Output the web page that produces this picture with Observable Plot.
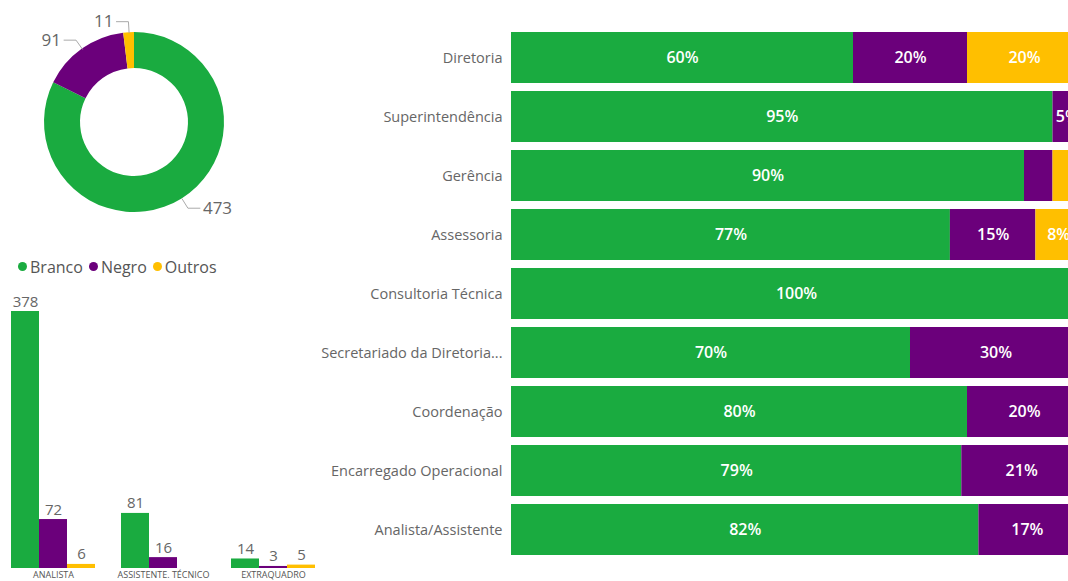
<!DOCTYPE html>
<html><head><meta charset="utf-8">
<script src="https://cdn.jsdelivr.net/npm/d3@7"></script>
<script src="https://cdn.jsdelivr.net/npm/@observablehq/plot@0.6"></script>
<style>
html,body{margin:0;padding:0;width:1068px;height:581px;overflow:hidden;background:#fff;font-family:"Open Sans",sans-serif;}
#donut{position:absolute;left:0;top:0;width:268px;}
#legend{position:absolute;left:18px;top:254px;font-size:16px;color:#555;white-space:nowrap;}
#legend span.item{display:inline-flex;align-items:center;margin-right:6px;}
#legend span.dot{display:inline-block;width:9px;height:9px;border-radius:50%;margin-right:3px;}
#cargo{position:absolute;left:0;top:290px;width:330px;}
#nivel{position:absolute;left:300px;top:0;width:781px;}
svg{max-width:none !important;}
</style></head><body>
<div id="donut"></div>
<div id="legend"></div>
<div id="cargo"></div>
<div id="nivel"></div>
<script>
// ---- data ----
const races = ["Branco", "Negro", "Outros"];
const raceColors = ["#1aab40", "#6b007b", "#ffbf00"];
const totals = [473, 91, 11];

const cargoGroups = ["ANALISTA", "ASSISTENTE. TÉCNICO", "EXTRAQUADRO"];
const cargoBranco = [378, 81, 14];
const cargoNegro = [72, 16, 3];
const cargoOutros = [6, 0, 5];

const niveis = ["Diretoria", "Superintendência", "Gerência", "Assessoria", "Consultoria Técnica",
  "Secretariado da Diretoria...", "Coordenação", "Encarregado Operacional", "Analista/Assistente"];
const pctBranco = [60, 95, 90, 77, 100, 70, 80, 79, 82];
const pctNegro = [20, 5, 5, 15, 0, 30, 20, 21, 17];
const pctOutros = [20, 0, 5, 8, 0, 0, 0, 0, 1];
const hiddenLabels = ["Gerência"];

const colorScale = {domain: races, range: raceColors};
const font = "'Open Sans', sans-serif";

// ---- donut ----
const pie = d3.pie().sort(null).value(d => d.value)(races.map((r, i) => ({race: r, value: totals[i]})));
const R = 90, r0 = 54;
const labelRows = [], leaderRows = [];
pie.forEach(p => {
  const mid = (p.startAngle + p.endAngle) / 2;
  const sx = Math.sin(mid), sy = -Math.cos(mid);
  const side = sx >= 0 ? 1 : -1;
  const p0 = [R * sx, R * sy], p1 = [(R + 11) * sx, (R + 11) * sy], p2 = [p1[0] + side * 12, p1[1]];
  [p0, p1, p2].forEach(pt => leaderRows.push({race: p.data.race, x: pt[0], y: pt[1]}));
  labelRows.push({race: p.data.race, value: p.data.value, x: p2[0] + side * 3, y: p2[1], anchor: side > 0 ? "start" : "end"});
});
const arcGen = d3.arc();
function donutMark(index, scales) {
  const g = d3.create("svg:g");
  const cx = scales.x(0), cy = scales.y(0);
  const k = scales.x(1) - scales.x(0);
  g.attr("transform", `translate(${cx},${cy})`);
  g.selectAll("path").data(pie).join("path")
    .attr("d", p => arcGen({innerRadius: r0 * k, outerRadius: R * k, startAngle: p.startAngle, endAngle: p.endAngle}))
    .attr("fill", p => raceColors[races.indexOf(p.data.race)]);
  return g.node();
}
const donut = Plot.plot({
  width: 268, height: 244, margin: 0,
  style: {fontFamily: font, maxWidth: "none"},
  x: {domain: [-134, 134], range: [0, 268], axis: null},
  y: {domain: [-122, 122], range: [0, 244], axis: null},
  marks: [
    donutMark,
    Plot.line(leaderRows, {x: "x", y: "y", z: "race", stroke: "#aaa", strokeWidth: 1}),
    Plot.text(labelRows.filter(d => d.anchor === "start"), {x: "x", y: "y", text: d => String(d.value), textAnchor: "start", fontSize: 17, fill: "#666"}),
    Plot.text(labelRows.filter(d => d.anchor === "end"), {x: "x", y: "y", text: d => String(d.value), textAnchor: "end", fontSize: 17, fill: "#666"})
  ]
});
document.getElementById("donut").append(donut);

// ---- legend ----
const legend = document.getElementById("legend");
races.forEach((r, i) => {
  const s = document.createElement("span"); s.className = "item";
  const d = document.createElement("span"); d.className = "dot"; d.style.background = raceColors[i];
  s.append(d, document.createTextNode(r));
  legend.append(s);
});

// ---- grouped bar (cargo) ----
const cargoTable = [];
cargoGroups.forEach((g, i) => {
  cargoTable.push({grupo: g, raca: "Branco", valor: cargoBranco[i]});
  cargoTable.push({grupo: g, raca: "Negro", valor: cargoNegro[i]});
  cargoTable.push({grupo: g, raca: "Outros", valor: cargoOutros[i]});
});
const cargo = Plot.plot({
  width: 330, height: 298, marginLeft: 10, marginRight: 15, marginTop: 21, marginBottom: 20,
  style: {fontFamily: font, color: "#666", maxWidth: "none"},
  fx: {domain: cargoGroups, paddingInner: 0.24, paddingOuter: 0, label: null, axis: null},
  x: {domain: races, padding: 0, axis: null},
  y: {domain: [0, 378], axis: null},
  color: colorScale,
  marks: [
    Plot.barY(cargoTable, {fx: "grupo", x: "raca", y: "valor", fill: "raca"}),
    Plot.text(cargoTable.filter(d => d.valor > 0), {fx: "grupo", x: "raca", y: "valor", text: d => String(d.valor), lineAnchor: "bottom", dy: -5, fontSize: 15, fill: "#666"}),
    Plot.axisFx({anchor: "bottom", tickSize: 0, tickPadding: 3, fontSize: 9, label: null, fill: "#555"})
  ]
});
document.getElementById("cargo").append(cargo);

// ---- 100% stacked bar (nivel) ----
const nivelTable = [];
niveis.forEach((n, i) => {
  nivelTable.push({nivel: n, raca: "Branco", pct: pctBranco[i]});
  nivelTable.push({nivel: n, raca: "Negro", pct: pctNegro[i]});
  nivelTable.push({nivel: n, raca: "Outros", pct: pctOutros[i]});
});
const labelText = d => (d.pct >= 5 && !(d.raca !== "Branco" && hiddenLabels.includes(d.nivel))) ? d.pct + "%" : "";
const nivel = Plot.plot({
  width: 781, height: 581, marginLeft: 211, marginRight: 0, marginTop: 26, marginBottom: 20,
  style: {fontFamily: font, color: "#666", maxWidth: "none"},
  x: {domain: [0, 100], axis: null},
  y: {domain: niveis, paddingInner: 0.13, paddingOuter: 0.065, label: null, axis: null},
  color: colorScale,
  marks: [
    Plot.barX(nivelTable, {x: "pct", y: "nivel", fill: "raca"}),
    Plot.text(nivelTable, Plot.stackX({x: "pct", y: "nivel", z: "raca", text: labelText, fill: "white", fontSize: 16, fontWeight: 600})),
    Plot.axisY({tickSize: 0, tickPadding: 9, fontSize: 14.5, label: null, fill: "#666"})
  ]
});
document.getElementById("nivel").append(nivel);
</script>
</body></html>
